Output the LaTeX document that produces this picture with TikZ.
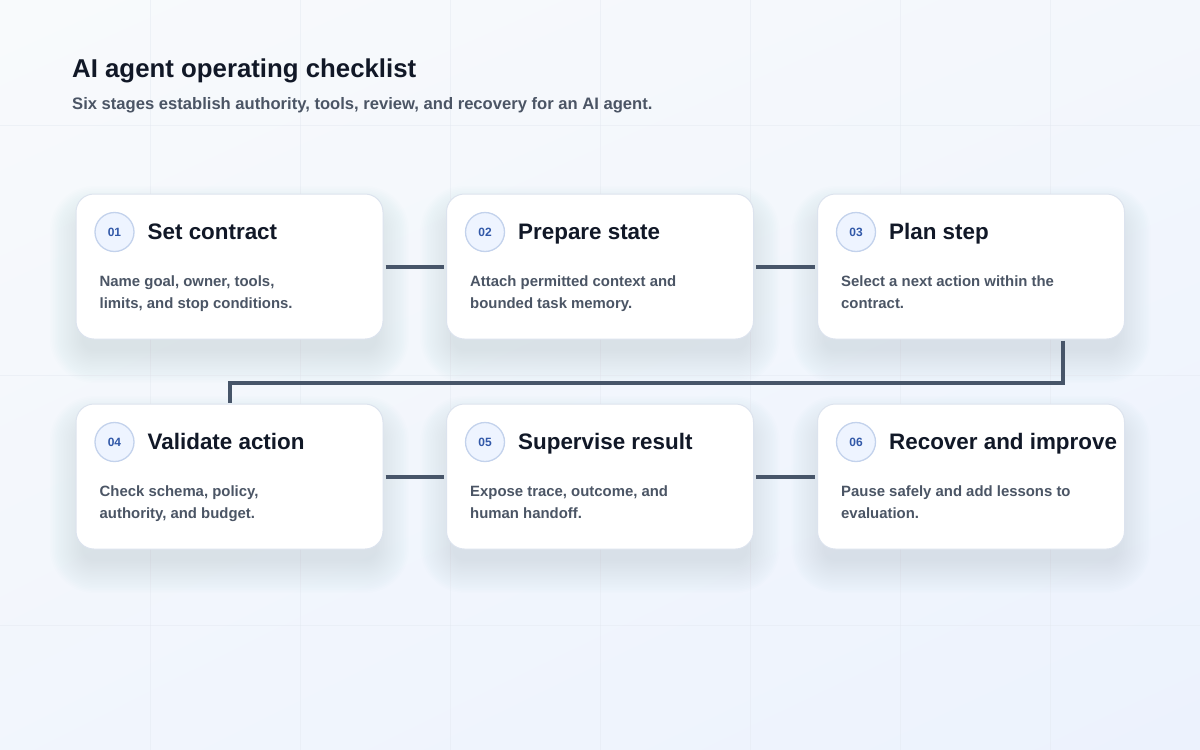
\documentclass[tikz,border=0pt]{standalone}
\usepackage{fontspec}
\setmainfont{Liberation Sans}
\usetikzlibrary{calc,shadings}
\definecolor{bgA}{HTML}{F8FAFC}
\definecolor{bgB}{HTML}{ECF2FD}
\definecolor{gridc}{HTML}{E3E8F0}
\definecolor{cardline}{HTML}{DCE3EE}
\definecolor{conn}{HTML}{475569}
\definecolor{dotfill}{HTML}{EEF4FF}
\definecolor{dotline}{HTML}{C3D2EC}
\definecolor{numc}{HTML}{3158A8}
\definecolor{ttlc}{HTML}{111827}
\definecolor{descc}{HTML}{4B5565}
\definecolor{shadowc}{HTML}{6B7A99}
\tikzset{
  card/.style={draw=cardline, line width=1pt, fill=white, rounded corners=18pt,
    minimum width=307pt, minimum height=145pt, inner sep=0pt},
  shadowlayer/.style={fill=shadowc, opacity=0.0085},
  numdot/.style={circle, draw=dotline, line width=1.3pt, fill=dotfill, minimum size=39pt, inner sep=0pt,
    font=\fontsize{12}{14}\selectfont\bfseries, text=numc},
  ttl/.style={font=\fontsize{22.4}{26}\selectfont\bfseries, text=ttlc, inner sep=0pt, anchor=base west},
  desc/.style={font=\fontsize{14.9}{18}\selectfont\bfseries, text=descc, inner sep=0pt, anchor=base west},
  connector/.style={draw=conn, line width=4pt},
  gridline/.style={gridc, line width=0.6pt, opacity=0.45},
}
\newcommand\stagecard[7]{%
  \foreach \s in {0,...,20}{%
    \pgfmathsetmacro\ee{1.6*\s-6}%
    \pgfmathsetmacro\rr{max(8,18+\ee)}%
    \fill[shadowlayer, rounded corners=\rr pt] ($(#2,#3)+(-153.5-\ee,-72.5-\ee+18)$) rectangle ($(#2,#3)+(153.5+\ee,72.5+\ee+18)$);
  }
  \node[card] (#1) at (#2,#3) {};
  \node[numdot] (#1n) at ($(#1.north west)+(39,38.5)$) {#4};
  \node[ttl] (#1t) at ($(#1.north west)+(72,46)$) {#5};
  \node[desc] (#1a) at ($(#1.north west)+(24,93)$) {#6};
  \node[desc] (#1b) at ($(#1.north west)+(24,115)$) {#7};
}
\begin{document}
\begin{tikzpicture}[x=1pt,y=-1pt]
\useasboundingbox (0,0) rectangle (1200,750);
\shade[upper left=bgA, upper right=bgA!60!bgB, lower left=bgA!45!bgB, lower right=bgB] (0,0) rectangle (1200,750);
\foreach \gx in {150,300,...,1050} \draw[gridline] (\gx,0) -- (\gx,750);
\foreach \gy in {125,375,625} \draw[gridline] (0,\gy) -- (1200,\gy);
\node[font=\fontsize{25.8}{30}\selectfont\bfseries, text=ttlc, inner sep=0pt, anchor=base west] (title) at (72,77) {AI agent operating checklist};
\node[font=\fontsize{16.6}{20}\selectfont\bfseries, text=descc, inner sep=0pt, anchor=base west] (sub) at (72,109) {Six stages establish authority, tools, review, and recovery for an AI agent.};
\stagecard{c1}{229.5}{266.5}{01}{Set contract}{Name goal, owner, tools,}{limits, and stop conditions.}
\stagecard{c2}{600}{266.5}{02}{Prepare state}{Attach permitted context and}{bounded task memory.}
\stagecard{c3}{971}{266.5}{03}{Plan step}{Select a next action within the}{contract.}
\stagecard{c4}{229.5}{476.5}{04}{Validate action}{Check schema, policy,}{authority, and budget.}
\stagecard{c5}{600}{476.5}{05}{Supervise result}{Expose trace, outcome, and}{human handoff.}
\stagecard{c6}{971}{476.5}{06}{Recover and improve}{Pause safely and add lessons to}{evaluation.}
\coordinate (k1) at ($(c3.south east)+(-62,0)$);
\draw[connector] ([xshift=2pt]c1.east) -- ([xshift=-2pt]c2.west);
\draw[connector] ([xshift=2pt]c2.east) -- ([xshift=-2pt]c3.west);
\draw[connector] ([yshift=-1pt]k1) -- (k1 |- 0,383) -| ([yshift=1pt]c4.north);
\draw[connector] ([xshift=2pt]c4.east) -- ([xshift=-2pt]c5.west);
\draw[connector] ([xshift=2pt]c5.east) -- ([xshift=-2pt]c6.west);
\end{tikzpicture}
\end{document}
